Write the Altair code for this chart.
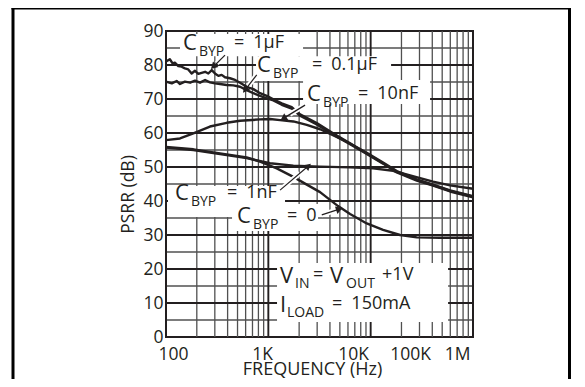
import math
import altair as alt
import pandas as pd

# ---------------- data ----------------
SERIES = ["1µF", "0.1µF", "10nF", "1nF", "0"]

FREQ_1UF = [100, 109, 116, 122, 132, 142, 153, 165, 178, 192, 207, 223, 241, 259, 280, 301, 325, 350, 377, 422,
            473, 529, 615, 714, 830, 965, 1119, 1352, 1693, 2041, 2973, 4291, 6289, 9160, 13220, 17990, 28230,
            40740, 59730, 100000]
PSRR_1UF = [81.0, 81.7, 80.5, 80.7, 79.7, 79.5, 79.0, 78.7, 77.5, 78.3, 77.4, 77.7, 78.0, 77.5, 78.5, 77.5, 76.8,
            77.1, 76.4, 76.1, 75.6, 74.8, 73.6, 72.9, 71.7, 70.9, 69.9, 68.7, 67.6, 65.5, 62.9, 59.9, 57.0, 54.0,
            51.1, 48.6, 46.2, 44.7, 43.0, 41.3]

FREQ_01UF = [100, 114, 127, 137, 153, 172, 192, 215, 241, 269, 301, 337, 392, 455, 529, 615, 714, 830, 965, 1119,
             1352, 1693, 2041, 2973, 4291, 6289, 9160, 13220, 17990, 28230, 40740, 59730, 100000]
PSRR_01UF = [75.1, 74.6, 75.3, 74.4, 75.1, 74.8, 75.4, 74.8, 75.6, 74.9, 74.6, 74.4, 74.1, 74.0, 73.6, 72.6, 71.7,
             70.9, 70.2, 69.6, 68.3, 67.2, 65.1, 62.5, 59.6, 56.7, 53.8, 51.0, 48.4, 46.0, 44.5, 42.8, 41.1]

FREQ_10NF = [100, 137, 185, 269, 392, 529, 830, 1039, 1302, 1756, 2374, 3202, 4487, 6013, 9160, 13220, 17990,
             28230, 40740, 59730, 100000]
PSRR_10NF = [57.9, 58.4, 59.9, 61.9, 63.0, 63.6, 64.0, 64.1, 63.8, 63.4, 62.4, 61.1, 59.1, 57.2, 54.2, 51.3, 48.8,
             46.3, 44.8, 43.1, 41.4]

FREQ_1NF = [100, 185, 392, 615, 1039, 1756, 3202, 6289, 10560, 16560, 24270, 40740, 59730, 100000]
PSRR_1NF = [55.7, 55.0, 53.5, 52.6, 51.1, 50.4, 50.1, 49.9, 49.6, 48.9, 47.5, 45.7, 44.6, 43.6]

FREQ_0 = [100, 185, 392, 615, 830, 1208, 1756, 2284, 3202, 4801, 6289, 9160, 13220, 19390, 28230, 47700, 100000]
PSRR_0 = [55.9, 55.2, 53.7, 52.8, 51.6, 49.6, 47.1, 45.1, 42.6, 38.5, 36.2, 33.4, 31.5, 30.0, 29.3, 29.2, 29.2]

# tick labels as printed on the reference (their positions do not sit on decades)
X_TICK_VALUES = [117, 868, 6730, 24270, 69900]
X_TICK_TEXT = ["100", "1K", "10K", "100K", "1M"]
Y_TICK_VALUES = [0, 10, 20, 30, 40, 50, 60, 70, 80, 90]

X_GRID_MAJOR = [100, 1000, 10000, 100000]
X_GRID_MINOR = [200, 300, 400, 500, 600, 700, 800, 900,
                2000, 3000, 4000, 5000, 6000, 7000, 8000, 9000,
                20000, 30000, 40000, 50000, 60000, 70000, 80000, 90000]
Y_GRID_MAJOR = [10, 20, 30, 40, 50, 60, 70, 80]
Y_GRID_MINOR = [5, 15, 25, 35, 45, 55, 65, 75, 85]

# ---------------- layout / style ----------------
W, H = 307, 306
X_DOMAIN = [100, 100000]
Y_DOMAIN = [0, 90]
PX_DEC = W / 3.0
PX_DB = H / 90.0
INK = "#231f20"
FONT = "Open Sans"
SIZE_BIG, SIZE_SUB, SIZE_MID = 22, 14, 18
AXIS_FS = 17.5

X_SCALE = alt.Scale(type="log", domain=X_DOMAIN, nice=False)
Y_SCALE = alt.Scale(domain=Y_DOMAIN, nice=False)


def shift(f, db, dx, dy):
    return f * 10 ** (dx / PX_DEC), db - dy / PX_DB


# label anchors (left/baseline of the big letter) in data coordinates, and the
# pixel offset of the "= value" part
C_LABELS = [("1µF", 146.6, 84.4, 51), ("0.1µF", 775, 77.8, 55), ("10nF", 2389, 69.3, 51),
            ("1nF", 122.4, 40.3, 52), ("0", 494.3, 33.5, 50)]
COND_ANCHORS = [(1302, 15.9), (1302, 7.4)]
COND_PIECES = [
    [("V", 0, 0, "big"), ("IN", 15, 5, "sub"), ("=", 33, -3, "mid"), ("V", 50, 0, "big"),
     ("OUT", 66, 5, "sub"), ("+1V", 102, -3, "mid")],
    [("I", 0, 0, "big"), ("LOAD", 7, 5, "sub"), ("=\u2002150mA", 52, -3, "mid")],
]
SIZES = {"big": SIZE_BIG, "sub": SIZE_SUB, "mid": SIZE_MID}

# white boxes behind the labels (data coordinates)
BOXES = [(137, 2184, 82.6, 89.1), (758, 15830, 75.3, 82.6), (2184, 38070, 68.5, 75.6),
         (104.6, 1456, 35.3, 44.4), (442, 3060, 31.2, 39.1), (1216, 57100, 4.4, 21.8)]

# arrows: tail (f, dB) -> head (f, dB)
ARROWS = [(377.4, 82.9, 290.1, 79.5), (770.2, 77.1, 592.0, 72.6), (2284, 68.2, 1402, 64.3),
          (1302, 43.2, 2460, 50.3), (3327, 35.9, 4944, 37.6)]

# ---------------- tables ----------------
curve_rows = []
for name, fs, vs in zip(SERIES, [FREQ_1UF, FREQ_01UF, FREQ_10NF, FREQ_1NF, FREQ_0],
                        [PSRR_1UF, PSRR_01UF, PSRR_10NF, PSRR_1NF, PSRR_0]):
    for f, v in zip(fs, vs):
        curve_rows.append({"s": name, "f": f, "db": v})
curves_df = pd.DataFrame(curve_rows)

pieces = []
for val, f, db, vdx in C_LABELS:
    pieces.append({"t": "C", "f": f, "db": db, "sz": SIZES["big"]})
    f2, d2 = shift(f, db, 16, 6)
    pieces.append({"t": "BYP", "f": f2, "db": d2, "sz": SIZES["sub"]})
    f3, d3 = shift(f, db, vdx, -2)
    pieces.append({"t": "=\u2002" + val, "f": f3, "db": d3, "sz": SIZES["mid"]})
for (fa, da), plist in zip(COND_ANCHORS, COND_PIECES):
    for t, dx, dy, st in plist:
        f2, d2 = shift(fa, da, dx, dy)
        pieces.append({"t": t, "f": f2, "db": d2, "sz": SIZES[st]})
text_df = pd.DataFrame(pieces)

box_df = pd.DataFrame([{"f": a, "f2": b, "db": c, "db2": d} for a, b, c, d in BOXES])

arrow_rows, halo_rows, head_rows = [], [], []
for i, (ft, dt, fh, dh) in enumerate(ARROWS):
    arrow_rows += [{"id": i, "f": ft, "db": dt}, {"id": i, "f": fh, "db": dh}]
    lt, lh = math.log10(ft), math.log10(fh)
    fm = 10 ** (lt + 0.7 * (lh - lt))
    dm = dt + 0.7 * (dh - dt)
    halo_rows += [{"id": i, "f": ft, "db": dt}, {"id": i, "f": fm, "db": dm}]
    dxp = (lh - lt) * PX_DEC
    dyp = -(dh - dt) * PX_DB
    ang = math.degrees(math.atan2(dxp, -dyp)) % 360
    head_rows.append({"f": fh, "db": dh, "ang": ang})
arrow_df = pd.DataFrame(arrow_rows)
halo_df = pd.DataFrame(halo_rows)
head_df = pd.DataFrame(head_rows)

# ---------------- axes (identical in every layer so they merge) ----------------
mids = [math.sqrt(X_TICK_VALUES[i] * X_TICK_VALUES[i + 1]) for i in range(len(X_TICK_VALUES) - 1)]
expr = "'%s'" % X_TICK_TEXT[-1]
for m, t in reversed(list(zip(mids, X_TICK_TEXT[:-1]))):
    expr = "datum.value < %f ? '%s' : (%s)" % (m, t, expr)

X_AXIS = alt.Axis(values=X_TICK_VALUES, labelExpr=expr, title="FREQUENCY (Hz)", titleX=146, titleY=37,
                  titleBaseline="alphabetic", titleAlign="center", labelPadding=8, labelFlush=False,
                  labelOverlap=False, titleFontSize=18)
Y_AXIS = alt.Axis(values=Y_TICK_VALUES, title="PSRR (dB)", titleAngle=270, titleX=-33, titleY=163,
                  titleBaseline="alphabetic", titleAlign="center", labelPadding=3)


def xenc(field="f"):
    return alt.X(field + ":Q", scale=X_SCALE, axis=X_AXIS)


def yenc(field="db"):
    return alt.Y(field + ":Q", scale=Y_SCALE, axis=Y_AXIS)


# ---------------- layers ----------------
vminor = alt.Chart(pd.DataFrame({"f": X_GRID_MINOR})).mark_rule(color="#505050", strokeWidth=1.3).encode(x=xenc())
vmajor = alt.Chart(pd.DataFrame({"f": X_GRID_MAJOR})).mark_rule(color=INK, strokeWidth=1.9).encode(x=xenc())
hminor = alt.Chart(pd.DataFrame({"db": Y_GRID_MINOR})).mark_rule(color="#505050", strokeWidth=1.3).encode(y=yenc())
hmajor = alt.Chart(pd.DataFrame({"db": Y_GRID_MAJOR})).mark_rule(color=INK, strokeWidth=1.9).encode(y=yenc())

boxes = alt.Chart(box_df).mark_rect(color="white").encode(
    x=xenc(), x2="f2:Q", y=yenc(), y2="db2:Q")

lines = alt.Chart(curves_df).mark_line(color=INK, strokeWidth=2.4, strokeJoin="round").encode(
    x=xenc(), y=yenc(), detail="s:N")

halos = alt.Chart(halo_df).mark_line(color="white", strokeWidth=5).encode(x=xenc(), y=yenc(), detail="id:N")
arrows = alt.Chart(arrow_df).mark_line(color=INK, strokeWidth=1.2).encode(x=xenc(), y=yenc(), detail="id:N")
heads = alt.Chart(head_df).mark_point(shape="triangle-up", filled=True, color=INK, size=60, opacity=1).encode(
    x=xenc(), y=yenc(), angle=alt.Angle("ang:Q", scale=None))

texts = alt.Chart(text_df).mark_text(align="left", baseline="alphabetic", color=INK, font=FONT).encode(
    x=xenc(), y=yenc(), text="t:N", size=alt.Size("sz:Q", scale=None, legend=None))

# outer frame (left, top and right edges of the figure box, running to the bottom of the page)
frame_left = alt.Chart(pd.DataFrame({"k": [0]})).mark_rule(color="#000000", strokeWidth=3).encode(
    x=alt.value(-153), y=alt.value(-24), y2=alt.value(360))
frame_top = alt.Chart(pd.DataFrame({"k": [0]})).mark_rule(color="#000000", strokeWidth=3).encode(
    x=alt.value(-154.5), x2=alt.value(405), y=alt.value(-23))
frame_right = alt.Chart(pd.DataFrame({"k": [0]})).mark_rule(color="#000000", strokeWidth=3).encode(
    x=alt.value(403.5), y=alt.value(-24), y2=alt.value(360))

chart = alt.layer(vminor, hminor, vmajor, hmajor, boxes, lines, halos, arrows, heads, texts,
                  frame_left, frame_top, frame_right).properties(
    width=W, height=H,
    autosize=alt.AutoSizeParams(type="none"),
    padding={"left": 158, "top": 23, "right": 98, "bottom": 42},
    background="white",
).configure_view(stroke=INK, strokeWidth=2).configure_axis(
    grid=False, domain=False, ticks=False, tickSize=0,
    labelFont=FONT, titleFont=FONT, labelColor=INK, titleColor=INK,
    labelFontSize=AXIS_FS, titleFontSize=AXIS_FS, titleFontWeight="normal")

chart.save("out.html", embed_options={"renderer": "svg", "actions": False})
